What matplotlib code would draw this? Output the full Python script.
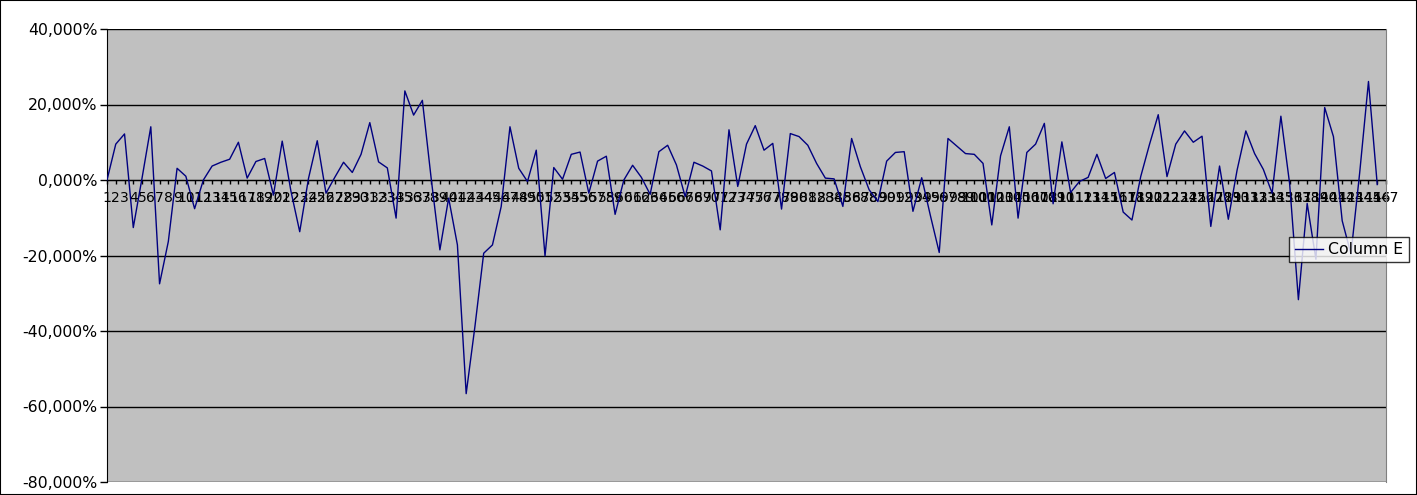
import numpy as np
import matplotlib
matplotlib.use('Agg')
import matplotlib.pyplot as plt
from matplotlib.patches import Rectangle
from matplotlib.ticker import FuncFormatter, FixedLocator

# values in percent, one per category
column_e = [
    0.0, 9.5, 12.2, -12.6, 0.5, 14.1, -27.5, -16.3, 3.1, 1.0,
    -7.6, 0.0, 3.7, 4.7, 5.5, 10.0, 0.5, 4.9, 5.7, -4.0,
    10.3, -3.0, -13.7, 0.4, 10.4, -3.5, 0.7, 4.7, 2.0, 6.8,
    15.2, 4.8, 3.2, -10.1, 23.6, 17.2, 21.1, 0.5, -18.5, -4.8,
    -17.2, -56.6, -38.8, -19.4, -17.2, -7.0, 14.1, 3.1, -0.4, 7.9,
    -20.1, 3.3, 0.2, 6.8, 7.4, -3.5, 5.0, 6.3, -9.1, 0.0,
    3.9, 0.7, -3.8, 7.5, 9.2, 4.0, -4.4, 4.7, 3.7, 2.4,
    -13.2, 13.3, -1.7, 9.5, 14.4, 7.9, 9.7, -7.7, 12.3, 11.5,
    9.2, 4.4, 0.5, 0.3, -7.0, 11.0, 3.5, -2.6, -5.7, 5.0,
    7.3, 7.5, -8.3, 0.6, -9.5, -19.2, 11.0, 9.0, 7.0, 6.8,
    4.4, -11.9, 6.4, 14.1, -10.1, 7.3, 9.5, 15.0, -6.3, 10.1,
    -3.3, -0.4, 0.7, 6.8, 0.4, 2.0, -8.5, -10.6, 0.9, 9.4,
    17.3, 0.9, 9.5, 13.0, 10.0, 11.6, -12.3, 3.7, -10.4, 2.6,
    13.0, 7.0, 2.8, -3.5, 16.9, -1.0, -31.7, -6.2, -21.0, 19.2,
    11.5, -10.8, -19.6, 2.0, 26.1, -1.2,
]
categories = [str(i) for i in range(1, 148)]
y_ticks = [40, 20, 0, -20, -40, -60, -80]
series_name = 'Column E'

W, H = 1417, 495
fig = plt.figure(figsize=(W/100, H/100), dpi=100)
ax = fig.add_axes([107/W, 1-482/H, (1386-107)/W, (482-29)/H])
ax.set_facecolor('#c0c0c0')

x = np.arange(len(column_e))
ax.plot(x, column_e, color='#000080', lw=1.0, label=series_name, zorder=3)

ax.set_xlim(0, len(categories)-1)
ax.set_ylim(-80, 40)

# horizontal grid
for v in y_ticks:
    ax.axhline(v, color='black', lw=1.0, zorder=1)

ax.yaxis.set_major_locator(FixedLocator(y_ticks))
ax.yaxis.set_major_formatter(FuncFormatter(lambda v, p: f'{v:.3f}%'.replace('.', ',')))
ax.tick_params(axis='y', direction='out', length=5, width=1, pad=2,
               labelsize=11.3, colors='black')

# category labels overlap in the original too
ax.set_xticks(range(len(categories)))
ax.set_xticklabels(categories, fontsize=12)
ax.tick_params(axis='x', direction='out', length=3, width=1, pad=5)

ax.spines['bottom'].set_position(('data', 0))
ax.spines['bottom'].set_zorder(2)
ax.spines['left'].set_color('black')
ax.spines['top'].set_visible(False)
ax.spines['right'].set_color('#808080')

leg = fig.legend(loc='center', bbox_to_anchor=((1291+1407)/2/W, 1-249.5/H),
                 fontsize=11.3, frameon=True, fancybox=False, handlelength=1.8,
                 handletextpad=0.35, borderpad=0.35, borderaxespad=0)
leg.get_frame().set_edgecolor('black')
leg.get_frame().set_linewidth(1.0)

fig.patches.append(Rectangle((0, 0), 1, 1, transform=fig.transFigure,
                             fill=False, edgecolor='black', lw=1.5))

fig.savefig('out.png', dpi=100)
